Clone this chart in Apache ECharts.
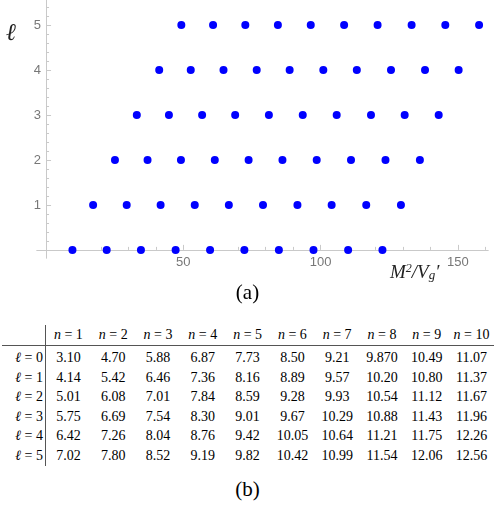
<!DOCTYPE html>
<html lang="en">

<head>
    <meta charset="UTF-8">
    <meta name="viewport" content="width=device-width, initial-scale=1.0">
    <title>Spectrum</title>
    <script src="https://cdnjs.cloudflare.com/ajax/libs/echarts/6.0.0/echarts.min.js"></script>
    <style>
        body { margin: 0; background: #fff; width: 495px; height: 509px; position: relative; overflow: hidden; }
        #main { position: absolute; left: 0; top: 0; width: 495px; height: 310px; }
        #tbl { position: absolute; left: 2px; top: 325px; border-collapse: collapse;
               font-family: 'Liberation Serif', serif; font-size: 14px; color: #000; }
        #tbl td, #tbl th { padding: 0; text-align: center; font-weight: normal; white-space: nowrap; }
        #tbl th { height: 18px; line-height: 20px; border-bottom: 1px solid #555; }
        #tbl td { height: 19.6px; line-height: 19.6px; }
        #tbl tr.gap td { height: 2px; line-height: 2px; }
        #tbl .lab { width: 41px; border-right: 1px solid #555; text-align: right; padding-right: 2px; }
        #tbl .col { width: 44.8px; }
        #cap { position: absolute; left: 0; width: 495px; top: 477px; text-align: center;
               font-family: 'Liberation Serif', serif; font-size: 21px; color: #000; }
    </style>
</head>

<body>
    <div id="main"></div>
    <table id="tbl"></table>
    <div id="cap">(b)</div>

    <script type="text/javascript">
        // table values M (per row l, per column n)
        const nLabels = [1, 2, 3, 4, 5, 6, 7, 8, 9, 10];
        const ellLabels = [0, 1, 2, 3, 4, 5];
        const tabL0 = ['3.10', '4.70', '5.88', '6.87', '7.73', '8.50', '9.21', '9.870', '10.49', '11.07'];
        const tabL1 = ['4.14', '5.42', '6.46', '7.36', '8.16', '8.89', '9.57', '10.20', '10.80', '11.37'];
        const tabL2 = ['5.01', '6.08', '7.01', '7.84', '8.59', '9.28', '9.93', '10.54', '11.12', '11.67'];
        const tabL3 = ['5.75', '6.69', '7.54', '8.30', '9.01', '9.67', '10.29', '10.88', '11.43', '11.96'];
        const tabL4 = ['6.42', '7.26', '8.04', '8.76', '9.42', '10.05', '10.64', '11.21', '11.75', '12.26'];
        const tabL5 = ['7.02', '7.80', '8.52', '9.19', '9.82', '10.42', '10.99', '11.54', '12.06', '12.56'];

        // scatter x positions (M^2/Vg') for each l
        const ptsL0 = [9.61, 22.09, 34.57, 47.20, 59.75, 72.25, 84.82, 97.42, 110.04, 122.54];
        const ptsL1 = [17.14, 29.38, 41.73, 54.17, 66.59, 79.03, 91.58, 104.04, 116.64, 129.28];
        const ptsL2 = [25.10, 36.97, 49.14, 61.47, 73.79, 86.12, 98.60, 111.09, 123.65, 136.19];
        const ptsL3 = [33.06, 44.76, 56.85, 68.89, 81.18, 93.51, 105.88, 118.37, 130.64, 143.04];
        const ptsL4 = [41.22, 52.71, 64.64, 76.74, 88.74, 101.00, 113.21, 125.66, 138.06, 150.31];
        const ptsL5 = [49.28, 60.84, 72.59, 84.46, 96.43, 108.58, 120.78, 133.17, 145.44, 157.75];

        // tick labels
        const xMajor = [50, 100, 150];
        const xMinor = [10, 20, 30, 40, 60, 70, 80, 90, 110, 120, 130, 140, 160];
        const yMajor = [1, 2, 3, 4, 5];
        const yMinor = [0.2, 0.4, 0.6, 0.8, 1.2, 1.4, 1.6, 1.8, 2.2, 2.4, 2.6, 2.8,
            3.2, 3.4, 3.6, 3.8, 4.2, 4.4, 4.6, 4.8, 5.2, 5.4];

        const tabRows = [tabL0, tabL1, tabL2, tabL3, tabL4, tabL5];
        const ptRows = [ptsL0, ptsL1, ptsL2, ptsL3, ptsL4, ptsL5];

        const axisGray = '#c9c9c9';
        const labelGray = '#777';
        const xRange = { min: -3.3, max: 161 };
        const yRange = { min: -0.18, max: 5.556 };
        const grid = { left: 37, right: 7, top: 0, bottom: 52 };

        // axes cross at the origin: shift them there with offset (onZero keeps labels at the grid edge)
        const gridW = 495 - grid.left - grid.right;
        const gridH = 310 - grid.top - grid.bottom;
        const xOff = -(0 - yRange.min) / (yRange.max - yRange.min) * gridH;
        const yOff = -(0 - xRange.min) / (xRange.max - xRange.min) * gridW;

        function xAx(ticks, len, labels) {
            return {
                type: 'value', position: 'bottom', min: xRange.min, max: xRange.max, offset: xOff,
                axisLine: { onZero: false, lineStyle: { color: axisGray, width: 1 } },
                axisTick: { inside: true, length: len, customValues: ticks, lineStyle: { color: axisGray } },
                axisLabel: labels ? { customValues: ticks, margin: 6, color: labelGray, fontSize: 13, fontFamily: 'Liberation Sans' } : { show: false },
                splitLine: { show: false }
            };
        }
        function yAx(ticks, len, labels) {
            return {
                type: 'value', position: 'left', min: yRange.min, max: yRange.max, offset: yOff,
                axisLine: { onZero: false, lineStyle: { color: axisGray, width: 1 } },
                axisTick: { inside: true, length: len, customValues: ticks, lineStyle: { color: axisGray } },
                axisLabel: labels ? { customValues: ticks, margin: 5, color: labelGray, fontSize: 13, fontFamily: 'Liberation Sans' } : { show: false },
                splitLine: { show: false }
            };
        }

        const myChart = echarts.init(document.getElementById('main'));
        const option = {
            animation: false,
            grid: Object.assign({ outerBoundsMode: 'none' }, grid),
            xAxis: [xAx(xMajor, 5, true), xAx(xMinor, 3, false)],
            yAxis: [yAx(yMajor, 5, true), yAx(yMinor, 3, false)],
            series: ptRows.map((row, i) => ({
                type: 'scatter',
                name: 'l=' + ellLabels[i],
                xAxisIndex: 0, yAxisIndex: 0,
                symbolSize: 8,
                itemStyle: { color: '#0000ff', opacity: 1 },
                data: row.map(x => [x, ellLabels[i]])
            })),
            graphic: [
                {
                    type: 'text', left: 6, top: 22,
                    style: { text: '\u2113', font: 'italic 24px "Liberation Serif"', fill: '#222' }
                },
                {
                    type: 'text', left: 390, top: 263,
                    style: {
                        text: '{a|M}{b|2}{a|/V}{c|g}{a|\u2032}',
                        rich: {
                            a: { font: 'italic 19px "Liberation Serif"', fill: '#222' },
                            b: { font: 'italic 12px "Liberation Serif"', fill: '#222', verticalAlign: 'top', padding: [0, 0, 6, 0] },
                            c: { font: 'italic 13px "Liberation Serif"', fill: '#222', verticalAlign: 'bottom', padding: [6, 0, 0, 0] }
                        }
                    }
                },
                {
                    type: 'text', left: 'center', top: 283,
                    style: { text: '(a)', font: '21px "Liberation Serif"', fill: '#000' }
                }
            ]
        };
        myChart.setOption(option);

        // table (b)
        const tbl = document.getElementById('tbl');
        let html = '<tr><th class="lab"></th>' + nLabels.map(n => '<th class="col"><i>n</i> = ' + n + '</th>').join('') + '</tr>';
        html += '<tr class="gap"><td class="lab"></td>' + nLabels.map(() => '<td></td>').join('') + '</tr>';
        tabRows.forEach((row, i) => {
            html += '<tr><td class="lab"><i>\u2113</i> = ' + ellLabels[i] + '</td>' +
                row.map(v => '<td class="col">' + v + '</td>').join('') + '</tr>';
        });
        tbl.innerHTML = html;
    </script>
</body>

</html>
